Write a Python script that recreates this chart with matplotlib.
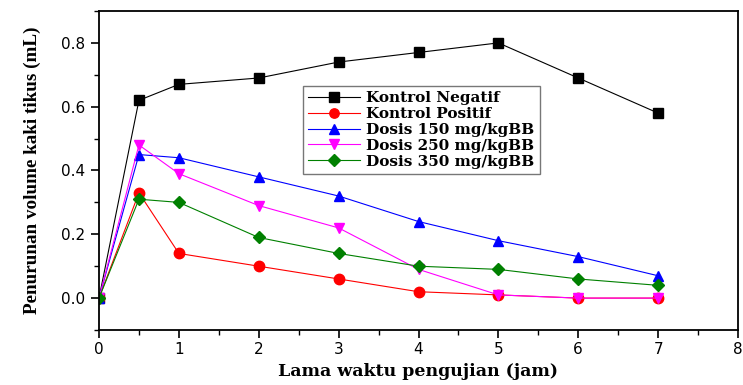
import matplotlib
matplotlib.use("Agg")
import matplotlib.pyplot as plt
from matplotlib.ticker import MultipleLocator

x = [0, 0.5, 1, 2, 3, 4, 5, 6, 7]
kontrol_negatif = [0, 0.62, 0.67, 0.69, 0.74, 0.77, 0.80, 0.69, 0.58]
kontrol_positif = [0, 0.33, 0.14, 0.10, 0.06, 0.02, 0.01, 0.00, 0.00]
dosis_150 = [0, 0.45, 0.44, 0.38, 0.32, 0.24, 0.18, 0.13, 0.07]
dosis_250 = [0, 0.48, 0.39, 0.29, 0.22, 0.09, 0.01, 0.00, 0.00]
dosis_350 = [0, 0.31, 0.30, 0.19, 0.14, 0.10, 0.09, 0.06, 0.04]

labels = ["Kontrol Negatif", "Kontrol Positif", "Dosis 150 mg/kgBB",
          "Dosis 250 mg/kgBB", "Dosis 350 mg/kgBB"]

fig = plt.figure(figsize=(7.43, 3.85), dpi=100)
ax = fig.add_axes([99/743, 1-330/385, (738-99)/743, (330-11)/385])

series = [kontrol_negatif, kontrol_positif, dosis_150, dosis_250, dosis_350]
styles = [("black", "s"), ("red", "o"), ("blue", "^"), ("magenta", "v"), ("green", "D")]
for ys, (c, m), lab in zip(series, styles, labels):
    ms = 6.5 if m == "D" else 7.5
    ax.plot(x, ys, color=c, lw=0.8, marker=m, ms=ms, mfc=c, mec=c, label=lab)

ax.set_xlim(0, 8)
ax.set_ylim(-0.1, 0.9)
ax.xaxis.set_major_locator(MultipleLocator(1))
ax.xaxis.set_minor_locator(MultipleLocator(0.5))
ax.yaxis.set_minor_locator(MultipleLocator(0.1))
ax.set_yticks([0.0, 0.2, 0.4, 0.6, 0.8])
ax.set_yticklabels(["0.0", "0.2", "0.4", "0.6", "0.8"])
ax.tick_params(which="major", direction="out", length=6, width=1.2, pad=4,
               labelsize=11, top=False, right=False)
ax.tick_params(axis="x", which="major", pad=3)
ax.tick_params(which="minor", direction="out", length=3.5, width=1.0,
               top=False, right=False)
for lab in ax.get_xticklabels() + ax.get_yticklabels():
    lab.set_family("DejaVu Sans")
for s in ax.spines.values():
    s.set_linewidth(1.3)

ax.set_xlabel("Lama waktu pengujian (jam)", family="DejaVu Serif",
              fontweight="bold", fontsize=12.5, labelpad=4)
ax.set_ylabel("Penurunan volume kaki tikus (mL)", family="Liberation Serif",
              fontweight="bold", fontsize=13.8, labelpad=14)

leg = ax.legend(loc="upper left", bbox_to_anchor=(0.319, 0.765),
                prop={"family": "DejaVu Serif", "weight": "bold", "size": 11},
                frameon=True, fancybox=False, edgecolor="#555555",
                handlelength=3.4, labelspacing=0.12, borderpad=0.35,
                handletextpad=0.4, borderaxespad=0, markerscale=0.9)
leg.get_frame().set_linewidth(1.0)

fig.savefig("out.png", dpi=100)
